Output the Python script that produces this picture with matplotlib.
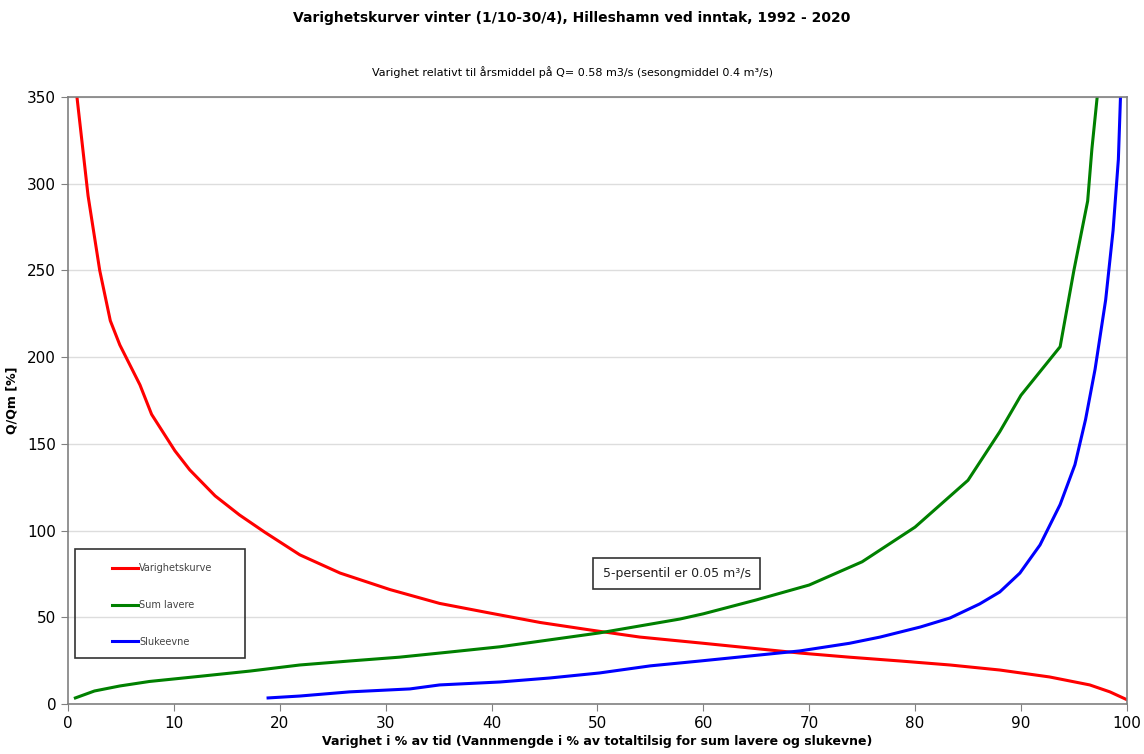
import numpy as np
import matplotlib.pyplot as plt
from matplotlib.patches import Rectangle

# duration curve (% of time exceeded vs Q/Qm in %)
vk_x = [0.85, 1.9, 3.0, 4.0, 4.9, 6.8, 7.9, 10.1, 11.5, 13.9, 16.2, 18.6, 21.9, 25.7,
        30.4, 35.1, 39.8, 44.6, 49.3, 54.0, 59.7, 64.4, 69.1, 73.8, 78.6, 83.3,
        88.0, 92.7, 96.5, 98.4, 100.0]
vk_y = [350, 293, 250, 221, 207, 184, 167, 146, 135, 120, 109, 99, 86, 75.5,
        66, 58, 52.5, 47, 42.7, 38.6, 35.2, 32.3, 29.4, 27, 24.8, 22.5,
        19.6, 15.6, 11, 7, 2.5]

# sum lower
sl_x = [0.7, 2.5, 4.9, 7.7, 12.5, 17.2, 21.9, 26.6, 31.3, 36.1, 40.8, 45.5, 50.2,
        54.0, 57.8, 60.0, 65.0, 70.0, 75.0, 80.0, 85.0, 88.0, 90.0, 93.7, 95.0,
        96.3, 96.7, 97.2]
sl_y = [3.5, 7.5, 10.4, 13, 16, 19, 22.5, 24.8, 27, 30, 33, 37, 41,
        45, 49, 52, 60, 68.6, 82, 102, 129, 157, 178, 206, 250,
        290, 320, 350]

# swallowing capacity
sk_x = [18.9, 21.9, 26.6, 32.3, 35.1, 40.8, 45.5, 50.2, 55.0, 59.7, 64.4, 69.1,
        73.8, 76.7, 80.5, 83.3, 86.1, 88.0, 89.9, 91.8, 93.7, 95.1, 96.1, 97.0,
        98.0, 98.7, 99.2, 99.4]
sk_y = [3.5, 4.6, 7, 8.7, 11, 12.7, 15, 17.9, 22, 24.8, 27.7, 30.6,
        35, 38.6, 44.4, 49.6, 57.7, 64.6, 75.5, 91.7, 115, 138, 164, 193,
        233, 273, 314, 350]

fig = plt.figure(figsize=(11.44, 7.54), dpi=100)
ax = fig.add_axes([0.0594, 0.0663, 0.9256, 0.8051])

ax.plot(vk_x, vk_y, color='#ff0000', lw=2.2, label='Varighetskurve')
ax.plot(sl_x, sl_y, color='#008000', lw=2.2, label='Sum lavere')
ax.plot(sk_x, sk_y, color='#0000ff', lw=2.2, label='Slukeevne')

ax.set_xlim(0, 100)
ax.set_ylim(0, 350)
ax.set_xticks(range(0, 101, 10))
ax.set_yticks(range(0, 351, 50))
ax.tick_params(labelsize=11, color='#808080', length=5)
for s in ax.spines.values():
    s.set_color('#808080')
    s.set_linewidth(1.2)
ax.yaxis.grid(True, color='#dddddd', lw=1)
ax.set_axisbelow(True)

ax.set_xlabel('Varighet i % av tid (Vannmengde i % av totaltilsig for sum lavere og slukevne)',
              fontsize=9, fontweight='bold', labelpad=3)
ax.set_ylabel('Q/Qm [%]', fontsize=9, fontweight='bold')
ax.yaxis.set_label_coords(-0.047, 0.5)

fig.text(0.5, 0.976, 'Varighetskurver vinter (1/10-30/4), Hilleshamn ved inntak, 1992 - 2020',
         ha='center', va='center', fontsize=10, fontweight='bold')
fig.text(0.5, 0.905, 'Varighet relativt til årsmiddel på Q= 0.58 m3/s (sesongmiddel 0.4 m³/s)',
         ha='center', va='center', fontsize=8)

# legend entries without frame, frame drawn separately
leg = ax.legend(loc='upper left', bbox_to_anchor=(0.0415, 0.232), frameon=False,
                fontsize=7, handlelength=2.7, handletextpad=0.1,
                labelspacing=2.75, borderpad=0, borderaxespad=0)
for t in leg.get_texts():
    t.set_color('#444444')
ax.add_patch(Rectangle((0.0066, 0.076), 0.161, 0.179, transform=ax.transAxes,
                       fill=False, ec='#333333', lw=1.2, zorder=5))

ax.annotate('5-persentil er 0.05 m³/s', xy=(0.505, 0.215), xycoords='axes fraction',
            fontsize=9, color='#222222', va='center',
            bbox=dict(boxstyle='square,pad=0.75', fc='white', ec='#333333', lw=1.2))

fig.savefig('out.png', dpi=100)
